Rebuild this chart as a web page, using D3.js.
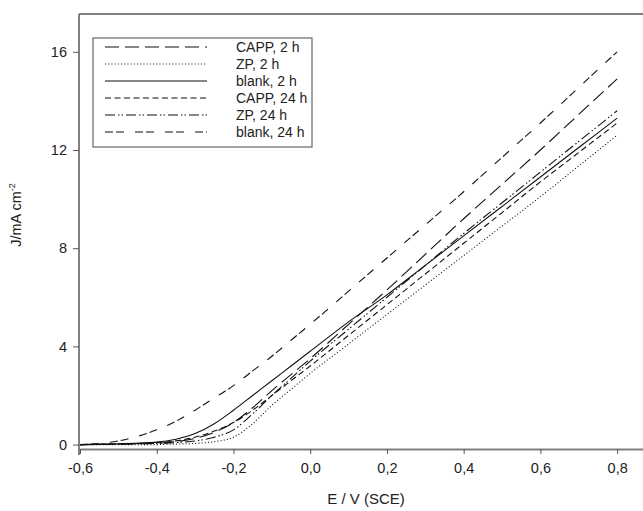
<!DOCTYPE html>
<html>
<head>
<meta charset="utf-8">
<script src="https://cdn.jsdelivr.net/npm/d3@7"></script>
<style>
  body { margin: 0; background: #fff; }
  svg { display: block; font-family: "Liberation Sans", Arial, sans-serif; }
  .tick text { font-size: 14.5px; fill: #222; }
</style>
</head>
<body>
<svg id="chart" width="643" height="511"></svg>
<script>
// potentials (V vs SCE) at which the curves were read
const potentials = [-0.6, -0.5, -0.4, -0.35, -0.3, -0.25, -0.2, -0.15, -0.1, -0.05, 0.0, 0.1, 0.2, 0.3, 0.4, 0.5, 0.6, 0.7, 0.8];

// current density, mA cm-2
const capp2h   = [0.0, 0.02, 0.05, 0.12, 0.25, 0.5, 0.9, 1.5, 2.2, 2.85, 3.5, 4.9, 6.3, 7.75, 9.2, 10.6, 12.0, 13.45, 14.9];
const zp2h     = [0.0, 0.0, 0.0, 0.02, 0.05, 0.12, 0.3, 0.85, 1.6, 2.25, 2.9, 4.1, 5.3, 6.5, 7.7, 8.9, 10.1, 11.35, 12.6];
const blank2h  = [0.0, 0.03, 0.1, 0.22, 0.45, 0.85, 1.4, 2.0, 2.6, 3.2, 3.8, 5.0, 6.1, 7.3, 8.5, 9.7, 10.9, 12.1, 13.3];
const capp24h  = [0.0, 0.03, 0.08, 0.15, 0.3, 0.55, 0.9, 1.4, 2.0, 2.6, 3.2, 4.45, 5.7, 6.95, 8.2, 9.45, 10.7, 11.9, 13.1];
const zp24h    = [0.0, 0.02, 0.05, 0.08, 0.15, 0.3, 0.6, 1.25, 2.0, 2.7, 3.4, 4.7, 6.0, 7.3, 8.6, 9.85, 11.1, 12.35, 13.6];
const blank24h = [0.0, 0.15, 0.6, 0.95, 1.4, 1.9, 2.4, 3.0, 3.6, 4.25, 4.9, 6.25, 7.6, 8.95, 10.3, 11.7, 13.1, 14.55, 16.0];

const seriesNames = ["CAPP, 2 h", "ZP, 2 h", "blank, 2 h", "CAPP, 24 h", "ZP, 24 h", "blank, 24 h"];
const seriesValues = [capp2h, zp2h, blank2h, capp24h, zp24h, blank24h];
const dashes = ["14,6", "1,2.2", null, "6,3.5", "10,3,1.5,2,1.5,3", "8,3,8,11"];

const xTicks = [-0.6, -0.4, -0.2, 0.0, 0.2, 0.4, 0.6, 0.8];
const yTicks = [0, 4, 8, 12, 16];

const svg = d3.select("#chart");

const x = d3.scaleLinear().domain([-0.6, 0.87]).range([80, 644]);
const y = d3.scaleLinear().domain([-0.18, 17.54]).range([449, 14]);

const fmt = d => d3.format(".1f")(d).replace(".", ",").replace("−", "-");

// frame: top line (right side runs off the image)
svg.append("line")
  .attr("x1", 79).attr("x2", 643)
  .attr("y1", 14).attr("y2", 14)
  .attr("stroke", "#808080").attr("stroke-width", 2);

const xAxis = svg.append("g")
  .attr("transform", "translate(0,449)")
  .call(d3.axisBottom(x).tickValues(xTicks).tickFormat(fmt).tickSize(5).tickSizeOuter(0).tickPadding(9));

const yAxis = svg.append("g")
  .attr("transform", "translate(79,0)")
  .call(d3.axisLeft(y).tickValues(yTicks).tickSize(6).tickSizeOuter(0).tickPadding(6));

[xAxis, yAxis].forEach(a => {
  a.select(".domain").attr("stroke", "#808080").attr("stroke-width", 2);
  a.selectAll(".tick line").attr("stroke", "#555");
});
yAxis.select(".domain").attr("d", "M0,14V455");

// curves
const line = d3.line()
  .x((d, i) => x(potentials[i]))
  .y(d => y(d))
  .curve(d3.curveMonotoneX);

svg.append("g").selectAll("path")
  .data(seriesValues)
  .join("path")
  .attr("d", d => line(d))
  .attr("fill", "none")
  .attr("stroke", "#111")
  .attr("stroke-width", 1.1)
  .attr("stroke-dasharray", (d, i) => dashes[i]);

// legend
const legend = svg.append("g");
legend.append("rect")
  .attr("x", 93).attr("y", 38).attr("width", 219).attr("height", 109)
  .attr("fill", "#fff").attr("stroke", "#666").attr("stroke-width", 1.2);

const rows = legend.selectAll("g.row")
  .data(seriesNames)
  .join("g")
  .attr("class", "row")
  .attr("transform", (d, i) => `translate(0,${47 + i * 17})`);

rows.append("line")
  .attr("x1", 105).attr("x2", 207)
  .attr("stroke", "#111").attr("stroke-width", 1.1)
  .attr("stroke-dasharray", (d, i) => dashes[i]);

rows.append("text")
  .attr("x", 236).attr("dy", "0.35em")
  .attr("font-size", 14).attr("fill", "#222")
  .text(d => d);

// axis titles
svg.append("text")
  .attr("x", 366).attr("y", 504)
  .attr("text-anchor", "middle")
  .attr("font-size", 15).attr("fill", "#222")
  .text("E / V (SCE)");

const yTitle = svg.append("text")
  .attr("transform", "translate(21,215) rotate(-90)")
  .attr("text-anchor", "middle")
  .attr("font-size", 14.5).attr("fill", "#222");
yTitle.append("tspan").text("J/mA cm");
yTitle.append("tspan").attr("font-size", 9).attr("dy", -6).text("-2");
</script>
</body>
</html>
